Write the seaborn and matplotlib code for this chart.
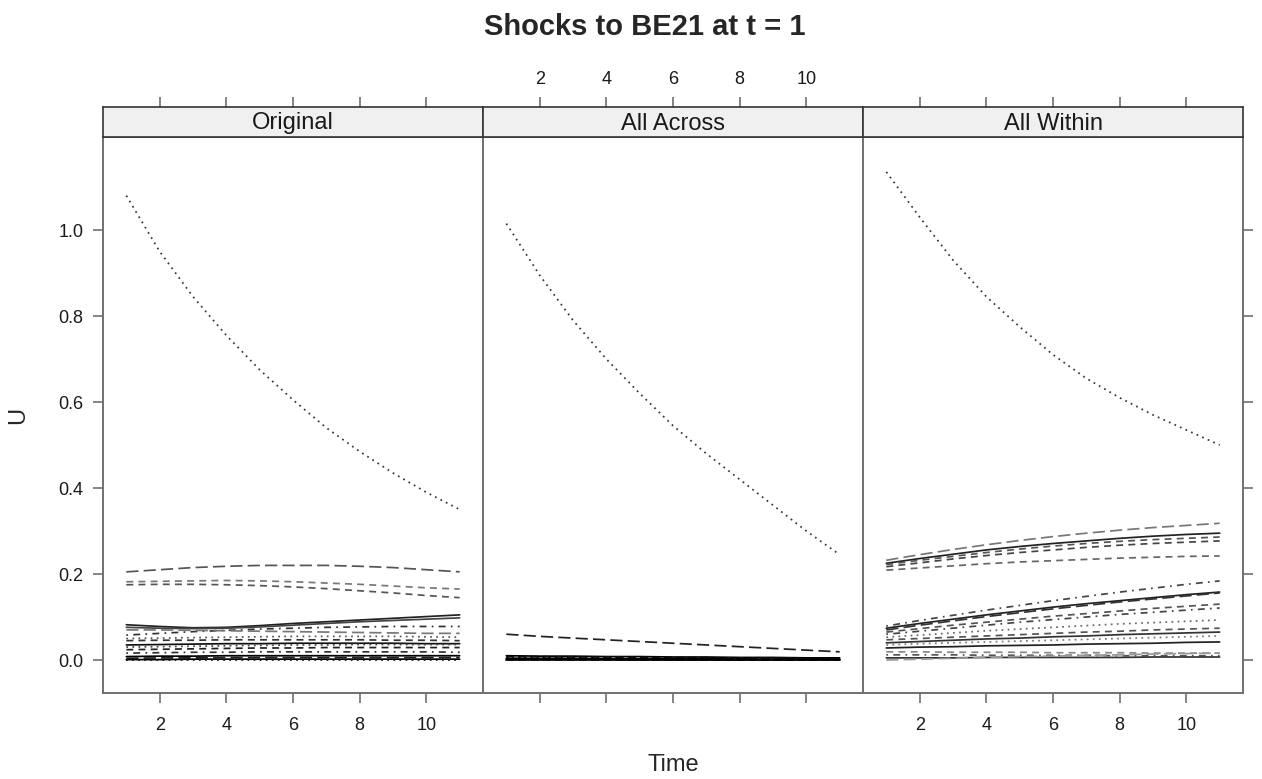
import pandas as pd
import matplotlib
matplotlib.use('Agg')
import matplotlib.pyplot as plt
import seaborn as sns

sns.set_style('white')
plt.rcParams['font.family'] = ['Liberation Sans', 'DejaVu Sans']

time = list(range(1, 12))
panel_names = ['Original', 'All Across', 'All Within']
y_ticks = [0.0, 0.2, 0.4, 0.6, 0.8, 1.0]
x_ticks = [2, 4, 6, 8, 10]

# responses, one list per series (t = 1..11)
original = [
    [1.08, 0.95, 0.845, 0.755, 0.675, 0.605, 0.54, 0.485, 0.435, 0.39, 0.35],
    [0.205, 0.21, 0.215, 0.218, 0.22, 0.22, 0.22, 0.218, 0.215, 0.21, 0.205],
    [0.182, 0.183, 0.184, 0.185, 0.184, 0.182, 0.179, 0.176, 0.172, 0.168, 0.165],
    [0.175, 0.176, 0.176, 0.175, 0.173, 0.17, 0.166, 0.161, 0.156, 0.15, 0.145],
    [0.082, 0.078, 0.075, 0.076, 0.08, 0.085, 0.089, 0.093, 0.097, 0.101, 0.105],
    [0.076, 0.074, 0.073, 0.074, 0.077, 0.081, 0.085, 0.089, 0.092, 0.095, 0.098],
    [0.058, 0.062, 0.066, 0.069, 0.072, 0.074, 0.076, 0.077, 0.078, 0.078, 0.078],
    [0.07, 0.07, 0.069, 0.068, 0.067, 0.066, 0.065, 0.064, 0.063, 0.062, 0.062],
    [0.05, 0.051, 0.052, 0.053, 0.054, 0.055, 0.055, 0.055, 0.055, 0.054, 0.053],
    [0.045, 0.046, 0.046, 0.047, 0.047, 0.047, 0.047, 0.047, 0.046, 0.046, 0.045],
    [0.035, 0.036, 0.037, 0.038, 0.038, 0.039, 0.039, 0.039, 0.039, 0.038, 0.038],
    [0.03, 0.031, 0.032, 0.033, 0.034, 0.035, 0.035, 0.036, 0.036, 0.036, 0.036],
    [0.024, 0.025, 0.026, 0.027, 0.028, 0.028, 0.029, 0.029, 0.029, 0.029, 0.029],
    [0.016, 0.017, 0.018, 0.018, 0.019, 0.019, 0.019, 0.019, 0.019, 0.019, 0.018],
    [0.008, 0.009, 0.009, 0.01, 0.01, 0.01, 0.01, 0.01, 0.01, 0.01, 0.01],
    [0.004, 0.005, 0.005, 0.006, 0.006, 0.006, 0.006, 0.006, 0.006, 0.006, 0.006],
    [0.001, 0.001, 0.002, 0.002, 0.002, 0.002, 0.002, 0.002, 0.002, 0.002, 0.002],
    [0.0, 0.0, 0.0, 0.0, 0.0, 0.0, 0.0, 0.0, 0.0, 0.0, 0.0],
]
all_across = [
    [1.015, 0.895, 0.79, 0.70, 0.62, 0.545, 0.48, 0.42, 0.36, 0.30, 0.245],
    [0.060, 0.055, 0.051, 0.047, 0.043, 0.039, 0.035, 0.031, 0.027, 0.023, 0.019],
    [0.010, 0.009, 0.009, 0.008, 0.008, 0.007, 0.007, 0.006, 0.006, 0.005, 0.005],
    [0.008, 0.008, 0.007, 0.007, 0.006, 0.006, 0.005, 0.005, 0.005, 0.004, 0.004],
    [0.006, 0.006, 0.005, 0.005, 0.005, 0.004, 0.004, 0.004, 0.003, 0.003, 0.003],
    [0.004, 0.004, 0.004, 0.003, 0.003, 0.003, 0.003, 0.002, 0.002, 0.002, 0.002],
    [0.003, 0.003, 0.003, 0.002, 0.002, 0.002, 0.002, 0.002, 0.002, 0.001, 0.001],
    [0.002, 0.002, 0.002, 0.002, 0.001, 0.001, 0.001, 0.001, 0.001, 0.001, 0.001],
    [0.001, 0.001, 0.001, 0.001, 0.001, 0.001, 0.001, 0.0, 0.0, 0.0, 0.0],
    [0.0, 0.0, 0.0, 0.0, 0.0, 0.0, 0.0, 0.0, 0.0, 0.0, 0.0],
]
all_within = [
    [1.135, 1.03, 0.93, 0.845, 0.775, 0.71, 0.655, 0.61, 0.57, 0.535, 0.50],
    [0.232, 0.245, 0.257, 0.268, 0.278, 0.287, 0.295, 0.302, 0.308, 0.313, 0.318],
    [0.225, 0.236, 0.246, 0.256, 0.264, 0.271, 0.277, 0.283, 0.288, 0.292, 0.295],
    [0.222, 0.232, 0.241, 0.25, 0.258, 0.265, 0.271, 0.276, 0.28, 0.283, 0.286],
    [0.217, 0.226, 0.235, 0.243, 0.25, 0.256, 0.262, 0.267, 0.271, 0.274, 0.277],
    [0.209, 0.214, 0.219, 0.224, 0.228, 0.231, 0.234, 0.237, 0.239, 0.241, 0.242],
    [0.079, 0.092, 0.104, 0.116, 0.127, 0.138, 0.148, 0.158, 0.167, 0.176, 0.184],
    [0.074, 0.085, 0.095, 0.105, 0.114, 0.123, 0.131, 0.138, 0.145, 0.152, 0.158],
    [0.070, 0.081, 0.091, 0.101, 0.110, 0.119, 0.127, 0.135, 0.142, 0.149, 0.156],
    [0.065, 0.073, 0.081, 0.088, 0.095, 0.102, 0.108, 0.114, 0.120, 0.125, 0.130],
    [0.060, 0.067, 0.074, 0.081, 0.088, 0.094, 0.100, 0.106, 0.111, 0.116, 0.121],
    [0.053, 0.058, 0.063, 0.068, 0.072, 0.076, 0.080, 0.084, 0.087, 0.090, 0.093],
    [0.047, 0.050, 0.053, 0.056, 0.059, 0.062, 0.065, 0.067, 0.070, 0.072, 0.074],
    [0.040, 0.043, 0.046, 0.049, 0.051, 0.054, 0.056, 0.059, 0.061, 0.063, 0.065],
    [0.035, 0.038, 0.040, 0.042, 0.044, 0.046, 0.048, 0.050, 0.052, 0.054, 0.056],
    [0.028, 0.030, 0.031, 0.033, 0.034, 0.035, 0.037, 0.038, 0.039, 0.041, 0.042],
    [0.019, 0.019, 0.018, 0.018, 0.018, 0.017, 0.017, 0.017, 0.016, 0.016, 0.016],
    [0.012, 0.012, 0.012, 0.011, 0.011, 0.011, 0.011, 0.010, 0.010, 0.010, 0.010],
    [0.005, 0.005, 0.005, 0.006, 0.006, 0.006, 0.006, 0.006, 0.007, 0.007, 0.007],
    [0.000, 0.002, 0.004, 0.006, 0.008, 0.009, 0.011, 0.012, 0.014, 0.015, 0.016],
]
panels = [original, all_across, all_within]

# R-ish lty patterns, recycled per series
lty = {
    'solid': '-',
    'dashed': (0, (4, 3)),
    'dotted': (0, (1, 2.5)),
    'dotdash': (0, (1, 3, 4, 3)),
    'longdash': (0, (7, 3)),
    'twodash': (0, (2, 2, 6, 2)),
}
orig_style = ['dotted', 'longdash', 'dashed', 'dashed', 'solid', 'solid', 'dotdash', 'longdash',
              'dotted', 'dashed', 'solid', 'dotted', 'dashed', 'dotdash', 'solid', 'longdash',
              'solid', 'dotted']
orig_col = ['#333333', '#555555', '#777777', '#555555', '#222222', '#444444', '#333333', '#777777',
            '#555555', '#333333', '#111111', '#444444', '#222222', '#333333', '#000000', '#222222',
            '#000000', '#111111']
across_style = ['dotted', 'longdash', 'solid', 'dashed', 'dotted', 'solid', 'dotdash', 'solid',
                'dashed', 'solid']
across_col = ['#333333', '#222222', '#000000', '#111111', '#000000', '#000000', '#111111', '#000000',
              '#000000', '#000000']
within_style = ['dotted', 'longdash', 'solid', 'dashed', 'dashed', 'dashed', 'dotdash', 'solid',
                'longdash', 'dashed', 'dotdash', 'dotted', 'dashed', 'solid', 'dotted', 'solid',
                'dashed', 'dotdash', 'solid', 'longdash']
within_col = ['#333333', '#777777', '#222222', '#555555', '#444444', '#666666', '#444444', '#222222',
              '#333333', '#555555', '#444444', '#666666', '#555555', '#333333', '#777777', '#222222',
              '#888888', '#555555', '#333333', '#999999']
styles = [(orig_style, orig_col), (across_style, across_col), (within_style, within_col)]

W, H = 1262, 779
fig = plt.figure(figsize=(W / 100, H / 100), dpi=100)
frame = '#707070'
xlim = (0.3, 11.7)
ylim = (-0.0767, 1.2163)

for i, name in enumerate(panel_names):
    x0 = 103 + i * 380
    ax = fig.add_axes([x0 / W, 1 - 693 / H, 380 / W, (693 - 137) / H])
    st = fig.add_axes([x0 / W, 1 - 137 / H, 380 / W, 30 / H])

    ls_list, col_list = styles[i]
    for j, vals in enumerate(panels[i]):
        df = pd.DataFrame({'Time': time, 'U': vals})
        sns.lineplot(data=df, x='Time', y='U', ax=ax, color=col_list[j],
                     linestyle=lty[ls_list[j]], lw=1.25, legend=False)

    ax.set_xlim(*xlim)
    ax.set_ylim(*ylim)
    ax.set_xlabel('')
    ax.set_ylabel('')
    ax.set_xticks(x_ticks)
    ax.set_yticks(y_ticks)
    ax.tick_params(direction='out', length=7, width=1.2, color=frame, labelsize=13,
                   pad=7, labelcolor='#1a1a1a')
    ax.tick_params(axis='x', bottom=True, labelbottom=(i != 1), pad=10)
    ax.tick_params(axis='y', left=(i == 0), labelleft=(i == 0), right=(i == 2), labelright=False)
    ax.set_yticklabels([f'{v:.1f}' for v in y_ticks])
    for s in ax.spines.values():
        s.set_color(frame)
        s.set_linewidth(1.4)

    st.set_facecolor('#f0f0f0')
    st.set_xlim(*xlim)
    st.set_yticks([])
    st.set_xticks(x_ticks)
    st.tick_params(axis='x', direction='out', length=7, width=1.2, color=frame, labelsize=13,
                   pad=7, labelcolor='#1a1a1a', bottom=False, labelbottom=False,
                   top=True, labeltop=(i == 1))
    for s in st.spines.values():
        s.set_color('#333333')
        s.set_linewidth(1.2)
    st.text(0.5, 0.45, name, transform=st.transAxes, ha='center', va='center', fontsize=17,
            color='#1a1a1a')

fig.text(645 / W, 1 - 27 / H, 'Shocks to BE21 at t = 1', ha='center', va='center',
         fontsize=21, fontweight='bold')
fig.text(673 / W, 1 - 765 / H, 'Time', ha='center', va='center', fontsize=17)
fig.text(18 / W, 1 - 415 / H, 'U', ha='center', va='center', fontsize=17, rotation=90)

fig.savefig('out.png', dpi=100)
